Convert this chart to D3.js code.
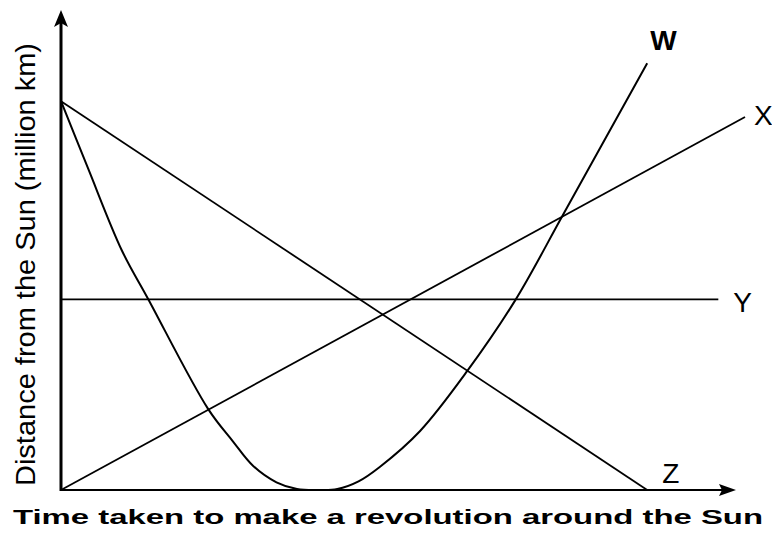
<!DOCTYPE html>
<html lang="en">
<head>
    <meta charset="UTF-8">
    <title>Distance vs revolution time</title>
    <script src="https://d3js.org/d3.v7.min.js"></script>
</head>
<body>
    <div id="svg-container"></div>
</body>
<style>
    *{
        padding: 0;
        margin: 0;
    }
    body{
        background: white;
    }
    text{
        font-family: Arial, "Liberation Sans", sans-serif;
    }
</style>
<script>
    // values (x and y in 0..100 chart units)
    const wX = [0, 3.9, 8.9, 12.7, 21.5, 25.1, 28.1, 31.5, 34.5, 37.9, 40.4, 43.5, 46.6, 52.5, 59.4, 66.4, 73.5, 85.7];
    const wY = [81, 67.2, 49.9, 39.9, 16.9, 10.2, 5.0, 1.6, 0.2, 0, 0.2, 1.8, 4.8, 12.3, 24.8, 39.5, 57.6, 88.9];
    const xLineX = [0, 100];
    const xLineY = [0, 77.7];
    const yLineX = [0, 96.1];
    const yLineY = [39.7, 39.7];
    const zLineX = [0, 85.7];
    const zLineY = [81, 0];

    const seriesNames = ["W", "X", "Y", "Z"];
    const xTitle = "Time taken to make a revolution around the Sun";
    const yTitle = "Distance from the Sun (million km)";

    var w = 772;
    var h = 535;

    var svg = d3.select('#svg-container')
        .append('svg')
        .attr('width', w)
        .attr('height', h);

    let xScale = d3.scaleLinear()
        .domain([0, 100])
        .range([61, 745]);

    let yScale = d3.scaleLinear()
        .domain([0, 100])
        .range([490, 10]);

    // axes with arrow heads
    let x0 = xScale(0), y0 = yScale(0);
    svg.append('line')
        .attr('x1', x0).attr('y1', y0)
        .attr('x2', 722).attr('y2', y0)
        .attr('stroke', 'black').attr('stroke-width', 2.2);
    svg.append('path')
        .attr('d', `M736,${y0} L719,${y0 - 6} L722,${y0} L719,${y0 + 6} Z`)
        .attr('fill', 'black');

    svg.append('line')
        .attr('x1', x0).attr('y1', y0 + 1)
        .attr('x2', x0).attr('y2', yScale(100) + 12)
        .attr('stroke', 'black').attr('stroke-width', 3);
    svg.append('path')
        .attr('d', `M${x0},${yScale(100)} L${x0 - 7},${yScale(100) + 17} L${x0},${yScale(100) + 13} L${x0 + 7},${yScale(100) + 17} Z`)
        .attr('fill', 'black');

    let series = [
        {name: seriesNames[0], xs: wX, ys: wY, dx: 3, dy: -13, sw: 2},
        {name: seriesNames[1], xs: xLineX, ys: xLineY, dx: 9, dy: 8, sw: 1.8},
        {name: seriesNames[2], xs: yLineX, ys: yLineY, dx: 15, dy: 13, sw: 1.8},
        {name: seriesNames[3], xs: zLineX, ys: zLineY, dx: 15, dy: -7, sw: 1.8}
    ];

    let line = d3.line()
        .x(d => xScale(d[0]))
        .y(d => yScale(d[1]));

    series.forEach(s => {
        let pts = s.xs.map((x, i) => [x, s.ys[i]]);
        svg.append('path')
            .datum(pts)
            .attr('d', s.name == "W" ? line.curve(d3.curveCatmullRom.alpha(0.5))(pts) : line.curve(d3.curveLinear)(pts))
            .attr('fill', 'none')
            .attr('stroke', 'black')
            .attr('stroke-width', s.sw);

        let last = pts[pts.length - 1];
        svg.append('text')
            .attr('x', xScale(last[0]) + s.dx)
            .attr('y', yScale(last[1]) + s.dy)
            .attr('font-size', 28)
            .attr('font-weight', s.name == "W" ? 'bold' : 'normal')
            .text(s.name);
    });

    // axis titles
    svg.append('text')
        .attr('x', 13)
        .attr('y', 524)
        .attr('font-size', 21)
        .attr('font-weight', 'bold')
        .attr('textLength', 750)
        .attr('lengthAdjust', 'spacingAndGlyphs')
        .text(xTitle);

    svg.append('text')
        .attr('transform', 'translate(35,486) rotate(-90)')
        .attr('font-size', 27)
        .attr('textLength', 443)
        .attr('lengthAdjust', 'spacingAndGlyphs')
        .text(yTitle);
</script>
</html>
